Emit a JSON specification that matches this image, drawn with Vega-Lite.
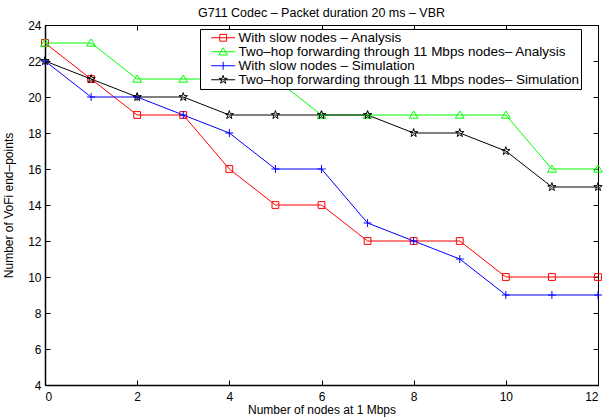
{
  "$schema": "https://vega.github.io/schema/vega-lite/v6.json",
  "width": 553,
  "height": 360,
  "autosize": {"type": "none"},
  "padding": {"left": 45, "top": 25, "right": 7, "bottom": 35},
  "background": "white",
  "config": {
    "view": {"stroke": "black", "strokeWidth": 1},
    "font": "Liberation Sans",
    "axis": {"grid": false, "domainColor": "black", "tickColor": "black", "labelColor": "black", "titleColor": "black", "labelFont": "Liberation Sans", "titleFont": "Liberation Sans", "labelFontSize": 12, "titleFontSize": 12, "titleFontWeight": "normal", "tickSize": -5, "domainWidth": 1.5},
    "legend": {"orient": "none", "legendX": 155, "legendY": 4, "padding": 2, "strokeColor": "black", "fillColor": "white", "cornerRadius": 0, "symbolSize": 64, "symbolStrokeWidth": 1, "labelOffset": 23, "rowPadding": -1.2, "labelFont": "Liberation Sans", "labelFontSize": 13.5, "labelColor": "black", "labelLimit": 0, "symbolOpacity": 1}
  },
  "title": {"text": "G711 Codec – Packet duration 20 ms – VBR", "font": "Liberation Sans", "fontSize": 12.5, "fontWeight": "normal", "color": "black", "offset": 0},
  "data": {"values": [
    {"nodes": 0, "series": "With slow nodes – Analysis", "endpoints": 23},
    {"nodes": 1, "series": "With slow nodes – Analysis", "endpoints": 21},
    {"nodes": 2, "series": "With slow nodes – Analysis", "endpoints": 19},
    {"nodes": 3, "series": "With slow nodes – Analysis", "endpoints": 19},
    {"nodes": 4, "series": "With slow nodes – Analysis", "endpoints": 16},
    {"nodes": 5, "series": "With slow nodes – Analysis", "endpoints": 14},
    {"nodes": 6, "series": "With slow nodes – Analysis", "endpoints": 14},
    {"nodes": 7, "series": "With slow nodes – Analysis", "endpoints": 12},
    {"nodes": 8, "series": "With slow nodes – Analysis", "endpoints": 12},
    {"nodes": 9, "series": "With slow nodes – Analysis", "endpoints": 12},
    {"nodes": 10, "series": "With slow nodes – Analysis", "endpoints": 10},
    {"nodes": 11, "series": "With slow nodes – Analysis", "endpoints": 10},
    {"nodes": 12, "series": "With slow nodes – Analysis", "endpoints": 10},
    {"nodes": 0, "series": "Two–hop forwarding through 11 Mbps nodes– Analysis", "endpoints": 23},
    {"nodes": 1, "series": "Two–hop forwarding through 11 Mbps nodes– Analysis", "endpoints": 23},
    {"nodes": 2, "series": "Two–hop forwarding through 11 Mbps nodes– Analysis", "endpoints": 21},
    {"nodes": 3, "series": "Two–hop forwarding through 11 Mbps nodes– Analysis", "endpoints": 21},
    {"nodes": 4, "series": "Two–hop forwarding through 11 Mbps nodes– Analysis", "endpoints": 21},
    {"nodes": 5, "series": "Two–hop forwarding through 11 Mbps nodes– Analysis", "endpoints": 21},
    {"nodes": 6, "series": "Two–hop forwarding through 11 Mbps nodes– Analysis", "endpoints": 19},
    {"nodes": 7, "series": "Two–hop forwarding through 11 Mbps nodes– Analysis", "endpoints": 19},
    {"nodes": 8, "series": "Two–hop forwarding through 11 Mbps nodes– Analysis", "endpoints": 19},
    {"nodes": 9, "series": "Two–hop forwarding through 11 Mbps nodes– Analysis", "endpoints": 19},
    {"nodes": 10, "series": "Two–hop forwarding through 11 Mbps nodes– Analysis", "endpoints": 19},
    {"nodes": 11, "series": "Two–hop forwarding through 11 Mbps nodes– Analysis", "endpoints": 16},
    {"nodes": 12, "series": "Two–hop forwarding through 11 Mbps nodes– Analysis", "endpoints": 16},
    {"nodes": 0, "series": "With slow nodes – Simulation", "endpoints": 22},
    {"nodes": 1, "series": "With slow nodes – Simulation", "endpoints": 20},
    {"nodes": 2, "series": "With slow nodes – Simulation", "endpoints": 20},
    {"nodes": 3, "series": "With slow nodes – Simulation", "endpoints": 19},
    {"nodes": 4, "series": "With slow nodes – Simulation", "endpoints": 18},
    {"nodes": 5, "series": "With slow nodes – Simulation", "endpoints": 16},
    {"nodes": 6, "series": "With slow nodes – Simulation", "endpoints": 16},
    {"nodes": 7, "series": "With slow nodes – Simulation", "endpoints": 13},
    {"nodes": 8, "series": "With slow nodes – Simulation", "endpoints": 12},
    {"nodes": 9, "series": "With slow nodes – Simulation", "endpoints": 11},
    {"nodes": 10, "series": "With slow nodes – Simulation", "endpoints": 9},
    {"nodes": 11, "series": "With slow nodes – Simulation", "endpoints": 9},
    {"nodes": 12, "series": "With slow nodes – Simulation", "endpoints": 9},
    {"nodes": 0, "series": "Two–hop forwarding through 11 Mbps nodes– Simulation", "endpoints": 22},
    {"nodes": 1, "series": "Two–hop forwarding through 11 Mbps nodes– Simulation", "endpoints": 21},
    {"nodes": 2, "series": "Two–hop forwarding through 11 Mbps nodes– Simulation", "endpoints": 20},
    {"nodes": 3, "series": "Two–hop forwarding through 11 Mbps nodes– Simulation", "endpoints": 20},
    {"nodes": 4, "series": "Two–hop forwarding through 11 Mbps nodes– Simulation", "endpoints": 19},
    {"nodes": 5, "series": "Two–hop forwarding through 11 Mbps nodes– Simulation", "endpoints": 19},
    {"nodes": 6, "series": "Two–hop forwarding through 11 Mbps nodes– Simulation", "endpoints": 19},
    {"nodes": 7, "series": "Two–hop forwarding through 11 Mbps nodes– Simulation", "endpoints": 19},
    {"nodes": 8, "series": "Two–hop forwarding through 11 Mbps nodes– Simulation", "endpoints": 18},
    {"nodes": 9, "series": "Two–hop forwarding through 11 Mbps nodes– Simulation", "endpoints": 18},
    {"nodes": 10, "series": "Two–hop forwarding through 11 Mbps nodes– Simulation", "endpoints": 17},
    {"nodes": 11, "series": "Two–hop forwarding through 11 Mbps nodes– Simulation", "endpoints": 15},
    {"nodes": 12, "series": "Two–hop forwarding through 11 Mbps nodes– Simulation", "endpoints": 15}
  ]},
  "resolve": {"scale": {"shape": "independent", "color": "independent"}, "axis": {"x": "independent", "y": "independent"}},
  "layer": [
    {
      "mark": {"type": "line", "strokeWidth": 1},
      "encoding": {
        "x": {"field": "nodes", "type": "quantitative", "scale": {"domain": [0, 12], "nice": false, "zero": false},
              "axis": {"values": [0, 2, 4, 6, 8, 10, 12], "title": "Number of nodes at 1 Mbps", "labelPadding": 11, "titlePadding": 2}},
        "y": {"field": "endpoints", "type": "quantitative", "scale": {"domain": [4, 24], "nice": false, "zero": false},
              "axis": {"values": [4, 6, 8, 10, 12, 14, 16, 18, 20, 22, 24], "title": "Number of VoFi end–points", "labelPadding": 9, "titlePadding": 12}},
        "color": {"field": "series", "type": "nominal", "legend": null,
                  "scale": {"domain": ["With slow nodes – Analysis", "Two–hop forwarding through 11 Mbps nodes– Analysis", "With slow nodes – Simulation", "Two–hop forwarding through 11 Mbps nodes– Simulation"], "range": ["#ff0000", "#00ff00", "#0000ff", "#000000"]}}
      }
    },
    {
      "mark": {"type": "point", "filled": false, "strokeWidth": 1, "size": 64, "opacity": 1},
      "encoding": {
        "x": {"field": "nodes", "type": "quantitative", "axis": {"orient": "top", "values": [0, 2, 4, 6, 8, 10, 12], "labels": false, "title": null, "domainWidth": 1}},
        "y": {"field": "endpoints", "type": "quantitative", "axis": {"orient": "right", "values": [4, 6, 8, 10, 12, 14, 16, 18, 20, 22, 24], "labels": false, "title": null, "domainWidth": 1}},
        "color": {"field": "series", "type": "nominal", "legend": null,
                  "scale": {"domain": ["With slow nodes – Analysis", "Two–hop forwarding through 11 Mbps nodes– Analysis", "With slow nodes – Simulation", "Two–hop forwarding through 11 Mbps nodes– Simulation"], "range": ["#ff0000", "#00ff00", "#0000ff", "#000000"]}},
        "shape": {"field": "series", "type": "nominal", "legend": null,
                  "scale": {"domain": ["With slow nodes – Analysis", "Two–hop forwarding through 11 Mbps nodes– Analysis", "With slow nodes – Simulation", "Two–hop forwarding through 11 Mbps nodes– Simulation"],
                            "range": ["M-0.85,-0.85H0.85V0.85H-0.85Z", "M0,-1L1.1,0.8H-1.1Z", "M-1,0H1M0,-1V1", "M0,-1.1L0.248,-0.34L1.046,-0.34L0.4,0.13L0.647,0.89L0,0.42L-0.647,0.89L-0.4,0.13L-1.046,-0.34L-0.248,-0.34Z"]}}
      }
    },
    {
      "mark": {"type": "point", "filled": false, "strokeWidth": 1, "size": 64, "opacity": 0},
      "encoding": {
        "x": {"field": "nodes", "type": "quantitative", "axis": null},
        "y": {"field": "endpoints", "type": "quantitative", "axis": null},
        "color": {"field": "series", "type": "nominal", "title": null,
                  "scale": {"domain": ["With slow nodes – Analysis", "Two–hop forwarding through 11 Mbps nodes– Analysis", "With slow nodes – Simulation", "Two–hop forwarding through 11 Mbps nodes– Simulation"], "range": ["#ff0000", "#00ff00", "#0000ff", "#000000"]}},
        "shape": {"field": "series", "type": "nominal", "title": null,
                  "scale": {"domain": ["With slow nodes – Analysis", "Two–hop forwarding through 11 Mbps nodes– Analysis", "With slow nodes – Simulation", "Two–hop forwarding through 11 Mbps nodes– Simulation"],
                            "range": ["M0.6,0H6.6M2.75,-0.85H4.45V0.85H2.75Z", "M0.6,0H6.6M3.6,-1L4.7,0.8H2.5Z", "M0.6,0H6.6M3.6,-1V1", "M0.6,0H6.6M3.6,-1.1L3.848,-0.34L4.646,-0.34L4,0.13L4.247,0.89L3.6,0.42L2.953,0.89L3.2,0.13L2.554,-0.34L3.352,-0.34Z"]}}
      }
    }
  ]
}
